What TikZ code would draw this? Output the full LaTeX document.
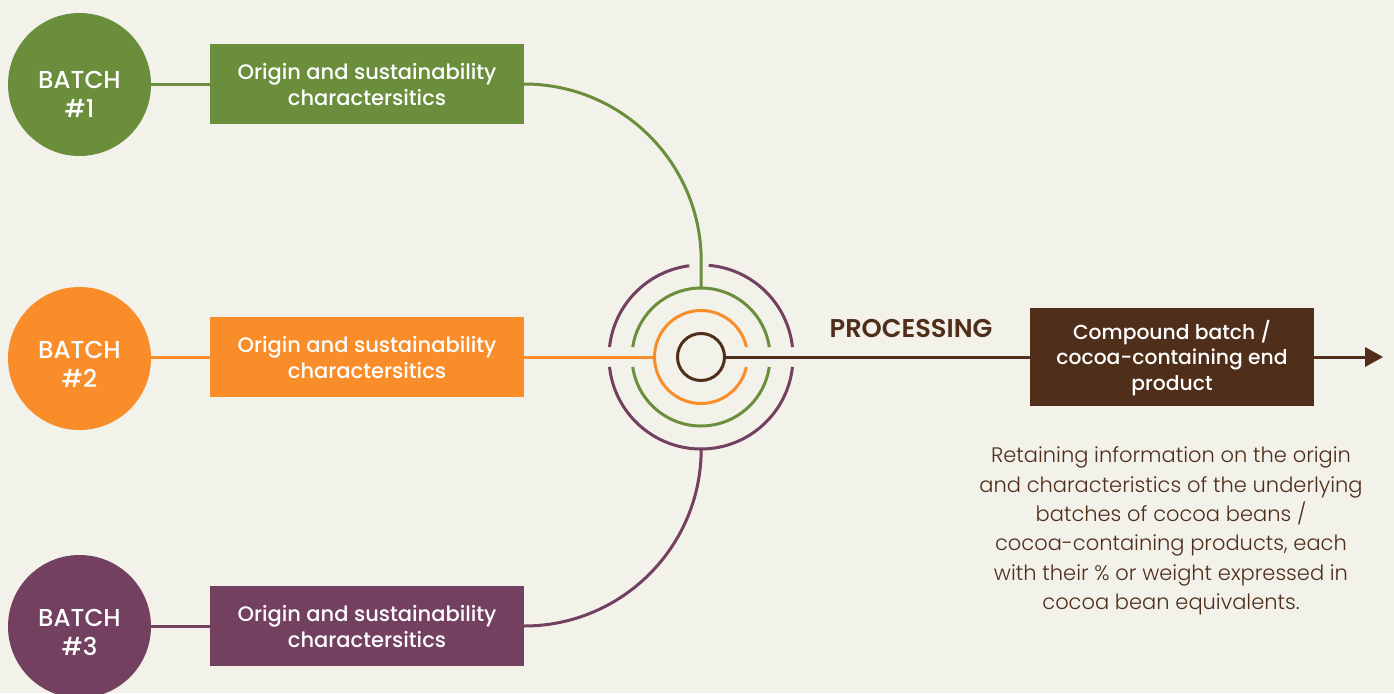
\documentclass[tikz,border=0pt]{standalone}
\usepackage{fontspec}
\setmainfont{Poppins}
\newfontfamily\med{Poppins Medium}
\newfontfamily\semi{Poppins SemiBold}
\newfontfamily\lite{Poppins Light}
\definecolor{bgc}{HTML}{F2F1EA}
\definecolor{gr}{HTML}{6B8E3D}
\definecolor{orc}{HTML}{F98D29}
\definecolor{pu}{HTML}{73405F}
\definecolor{br}{HTML}{4F2E1A}
\tikzset{
 batchc/.style={circle,minimum size=143pt,inner sep=0pt},
 batcht/.style={inner sep=0pt,text=white,align=center,font=\med\fontsize{24.5}{29}\selectfont},
 infobox/.style={minimum width=314pt,minimum height=80pt,inner sep=0pt},
 infot/.style={inner sep=0pt,text=white,align=center,font=\med\fontsize{21}{26}\selectfont},
 link/.style={line width=3pt},
 ring/.style={line width=3pt},
}
\begin{document}
\begin{tikzpicture}[x=1pt,y=-1pt]
\useasboundingbox (0,0) rectangle (1394,693);
\fill[bgc] (0,0) rectangle (1394,693);
\coordinate (hub) at (701,357);
\coordinate (hubtop) at (701,287);
\coordinate (hubleft) at (655,357);
\coordinate (hubbot) at (701,449);
\coordinate (tip) at (1383,357);
\node[batchc,fill=gr] (b1) at (79.5,84.5) {};
\node[batchc,fill=orc] (b2) at (79.5,358.5) {};
\node[batchc,fill=pu] (b3) at (79.5,626.5) {};
\node[batcht] (t1) at (79.5,94) {BATCH\\\#1};
\node[batcht] (t2) at (79.5,364.5) {BATCH\\\#2};
\node[batcht] (t3) at (79.5,632.5) {BATCH\\\#3};
\node[infobox,fill=gr] (o1) at (367,84) {};
\node[infobox,fill=orc] (o2) at (367,357) {};
\node[infobox,fill=pu] (o3) at (367,626) {};
\node[infot] (l1) at (367,85) {Origin and sustainability\\charactersitics};
\node[infot] (l2) at (367,358) {Origin and sustainability\\charactersitics};
\node[infot] (l3) at (367,627) {Origin and sustainability\\charactersitics};
\node[minimum width=284pt,minimum height=98pt,inner sep=0pt,fill=br] (cp) at (1172,357) {};
\node[inner sep=0pt,text=white,align=center,font=\med\fontsize{20.3}{25.5}\selectfont] (cpt) at (1172,358) {Compound batch /\\cocoa-containing end\\product};
\draw[link,gr] (b1.east|-o1.west) -- (o1.west);
\draw[link,orc] (b2.east|-o2.west) -- (o2.west);
\draw[link,pu] (b3.east|-o3.west) -- (o3.west);
\draw[link,gr] (o1.east) arc[start angle=90,end angle=0,radius=177pt] -- (hubtop);
\draw[link,orc] (o2.east) -- (hubleft);
\draw[link,pu] (o3.east) arc[start angle=-90,end angle=0,radius=177pt] -- (hubbot);
\draw[ring,br] (hub) circle[radius=23.5pt];
\draw[ring,orc] (hub) ++(12.4:46.5pt) arc[start angle=12.4,end angle=347.6,radius=46.5pt];
\draw[ring,gr] (hub) ++(8.3:69pt) arc[start angle=8.3,end angle=171.7,radius=69pt];
\draw[ring,gr] (hub) ++(188.3:69pt) arc[start angle=188.3,end angle=351.7,radius=69pt];
\draw[ring,pu] (hub) ++(6.2:92pt) arc[start angle=6.2,end angle=85.2,radius=92pt];
\draw[ring,pu] (hub) ++(97.3:92pt) arc[start angle=97.3,end angle=173.8,radius=92pt];
\draw[ring,pu] (hub) ++(186.2:92pt) arc[start angle=186.2,end angle=353.8,radius=92pt];
\draw[link,br] (hub) ++(23.5pt,0) -- (cp.west);
\draw[link,br] (cp.east) -- (1366,357);
\fill[br] (tip) -- (1365,347) -- (1365,367) -- cycle;
\node[text=br,font=\semi\fontsize{25.7}{28}\selectfont,inner sep=0pt] (pl) at (911,328) {PROCESSING};
\node[text=br,align=center,inner sep=0pt,font=\lite\fontsize{21}{29.4}\selectfont] (desc) at (1171,531) {Retaining information on the origin\\and characteristics of the underlying\\batches of cocoa beans /\\cocoa-containing products, each\\with their \% or weight expressed in\\cocoa bean equivalents.};
\end{tikzpicture}
\end{document}
